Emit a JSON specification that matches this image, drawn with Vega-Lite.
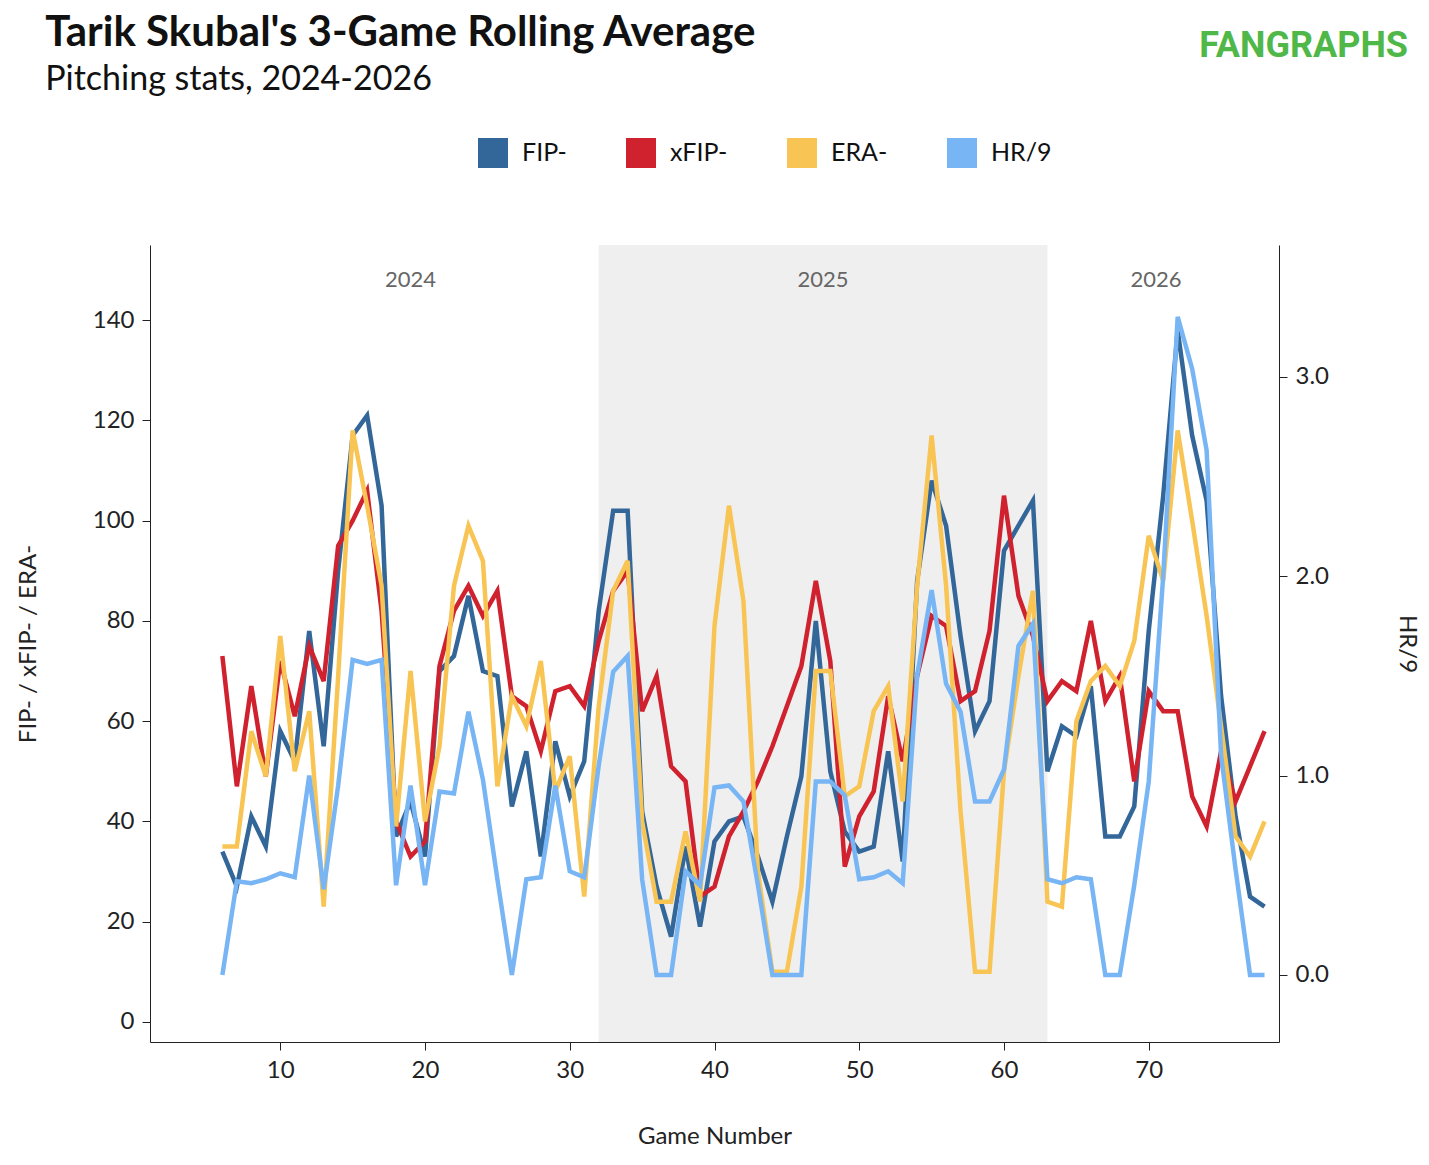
{
  "$schema": "https://vega.github.io/schema/vega-lite/v6.json",
  "autosize": {"type": "none"},
  "width": 1129,
  "height": 797,
  "padding": {"left": 150, "top": 245, "right": 150, "bottom": 123},
  "config": {
    "font": "Lato",
    "view": {"stroke": null},
    "axis": {"domainColor": "#222", "tickColor": "#222", "labelColor": "#222", "titleColor": "#222", "labelFontSize": 24, "titleFontSize": 24, "titleFontWeight": "normal", "labelFont": "Lato", "titleFont": "Lato", "grid": false, "tickSize": 8, "labelPadding": 8}
  },
  "title": {
    "text": "Tarik Skubal's 3-Game Rolling Average",
    "subtitle": "Pitching stats, 2024-2026",
    "anchor": "start",
    "dx": 29,
    "offset": -70,
    "fontSize": 42,
    "fontWeight": "bold",
    "color": "#111",
    "subtitleFontSize": 34,
    "subtitleColor": "#111",
    "subtitlePadding": 8,
    "font": "Lato",
    "subtitleFont": "Lato"
  },
  "datasets": {
    "seasons": [
      {"start": 1, "end": 32, "mid": 19, "season": "2024"},
      {"start": 32, "end": 63, "mid": 47.5, "season": "2025"},
      {"start": 63, "end": 79, "mid": 70.5, "season": "2026"}
    ],
    "games": [
      {"g": 6, "FIP-": 34, "xFIP-": 73, "ERA-": 35, "HR/9": 0.0},
      {"g": 7, "FIP-": 27, "xFIP-": 47, "ERA-": 35, "HR/9": 0.47},
      {"g": 8, "FIP-": 41, "xFIP-": 67, "ERA-": 58, "HR/9": 0.46},
      {"g": 9, "FIP-": 35, "xFIP-": 49, "ERA-": 49, "HR/9": 0.48},
      {"g": 10, "FIP-": 58, "xFIP-": 72, "ERA-": 77, "HR/9": 0.51},
      {"g": 11, "FIP-": 52, "xFIP-": 61, "ERA-": 50, "HR/9": 0.49},
      {"g": 12, "FIP-": 78, "xFIP-": 75, "ERA-": 62, "HR/9": 1.0},
      {"g": 13, "FIP-": 55, "xFIP-": 68, "ERA-": 23, "HR/9": 0.43},
      {"g": 14, "FIP-": 90, "xFIP-": 95, "ERA-": 69, "HR/9": 0.95},
      {"g": 15, "FIP-": 117, "xFIP-": 100, "ERA-": 118, "HR/9": 1.58},
      {"g": 16, "FIP-": 121, "xFIP-": 106, "ERA-": 103, "HR/9": 1.56},
      {"g": 17, "FIP-": 103, "xFIP-": 82, "ERA-": 87, "HR/9": 1.58},
      {"g": 18, "FIP-": 37, "xFIP-": 40, "ERA-": 39, "HR/9": 0.45},
      {"g": 19, "FIP-": 44, "xFIP-": 33, "ERA-": 70, "HR/9": 0.95},
      {"g": 20, "FIP-": 33, "xFIP-": 36, "ERA-": 40, "HR/9": 0.45},
      {"g": 21, "FIP-": 70, "xFIP-": 71, "ERA-": 55, "HR/9": 0.92},
      {"g": 22, "FIP-": 73, "xFIP-": 82, "ERA-": 87, "HR/9": 0.91},
      {"g": 23, "FIP-": 85, "xFIP-": 87, "ERA-": 99, "HR/9": 1.32},
      {"g": 24, "FIP-": 70, "xFIP-": 81, "ERA-": 92, "HR/9": 0.98},
      {"g": 25, "FIP-": 69, "xFIP-": 86, "ERA-": 47, "HR/9": 0.48},
      {"g": 26, "FIP-": 43, "xFIP-": 65, "ERA-": 65, "HR/9": 0.0},
      {"g": 27, "FIP-": 54, "xFIP-": 63, "ERA-": 59, "HR/9": 0.48},
      {"g": 28, "FIP-": 33, "xFIP-": 54, "ERA-": 72, "HR/9": 0.49},
      {"g": 29, "FIP-": 56, "xFIP-": 66, "ERA-": 46, "HR/9": 0.95},
      {"g": 30, "FIP-": 45, "xFIP-": 67, "ERA-": 53, "HR/9": 0.52},
      {"g": 31, "FIP-": 52, "xFIP-": 63, "ERA-": 25, "HR/9": 0.49},
      {"g": 32, "FIP-": 82, "xFIP-": 76, "ERA-": 63, "HR/9": 1.05},
      {"g": 33, "FIP-": 102, "xFIP-": 86, "ERA-": 86, "HR/9": 1.52},
      {"g": 34, "FIP-": 102, "xFIP-": 90, "ERA-": 92, "HR/9": 1.6},
      {"g": 35, "FIP-": 42, "xFIP-": 62, "ERA-": 40, "HR/9": 0.48},
      {"g": 36, "FIP-": 27, "xFIP-": 69, "ERA-": 24, "HR/9": 0.0},
      {"g": 37, "FIP-": 17, "xFIP-": 51, "ERA-": 24, "HR/9": 0.0},
      {"g": 38, "FIP-": 35, "xFIP-": 48, "ERA-": 38, "HR/9": 0.52},
      {"g": 39, "FIP-": 19, "xFIP-": 25, "ERA-": 24, "HR/9": 0.45},
      {"g": 40, "FIP-": 36, "xFIP-": 27, "ERA-": 79, "HR/9": 0.94},
      {"g": 41, "FIP-": 40, "xFIP-": 37, "ERA-": 103, "HR/9": 0.95},
      {"g": 42, "FIP-": 41, "xFIP-": 42, "ERA-": 84, "HR/9": 0.87},
      {"g": 43, "FIP-": 33, "xFIP-": 48, "ERA-": 30, "HR/9": 0.45},
      {"g": 44, "FIP-": 24, "xFIP-": 55, "ERA-": 10, "HR/9": 0.0},
      {"g": 45, "FIP-": 37, "xFIP-": 63, "ERA-": 10, "HR/9": 0.0},
      {"g": 46, "FIP-": 49, "xFIP-": 71, "ERA-": 27, "HR/9": 0.0},
      {"g": 47, "FIP-": 80, "xFIP-": 88, "ERA-": 70, "HR/9": 0.97},
      {"g": 48, "FIP-": 50, "xFIP-": 72, "ERA-": 70, "HR/9": 0.97},
      {"g": 49, "FIP-": 38, "xFIP-": 31, "ERA-": 45, "HR/9": 0.9},
      {"g": 50, "FIP-": 34, "xFIP-": 41, "ERA-": 47, "HR/9": 0.48},
      {"g": 51, "FIP-": 35, "xFIP-": 46, "ERA-": 62, "HR/9": 0.49},
      {"g": 52, "FIP-": 54, "xFIP-": 65, "ERA-": 67, "HR/9": 0.52},
      {"g": 53, "FIP-": 32, "xFIP-": 52, "ERA-": 44, "HR/9": 0.46},
      {"g": 54, "FIP-": 88, "xFIP-": 69, "ERA-": 87, "HR/9": 1.5},
      {"g": 55, "FIP-": 108, "xFIP-": 81, "ERA-": 117, "HR/9": 1.93},
      {"g": 56, "FIP-": 99, "xFIP-": 79, "ERA-": 87, "HR/9": 1.46},
      {"g": 57, "FIP-": 77, "xFIP-": 64, "ERA-": 42, "HR/9": 1.32},
      {"g": 58, "FIP-": 58, "xFIP-": 66, "ERA-": 10, "HR/9": 0.87},
      {"g": 59, "FIP-": 64, "xFIP-": 78, "ERA-": 10, "HR/9": 0.87},
      {"g": 60, "FIP-": 94, "xFIP-": 105, "ERA-": 50, "HR/9": 1.03},
      {"g": 61, "FIP-": 99, "xFIP-": 85, "ERA-": 69, "HR/9": 1.65},
      {"g": 62, "FIP-": 104, "xFIP-": 77, "ERA-": 86, "HR/9": 1.76},
      {"g": 63, "FIP-": 50, "xFIP-": 64, "ERA-": 24, "HR/9": 0.48},
      {"g": 64, "FIP-": 59, "xFIP-": 68, "ERA-": 23, "HR/9": 0.46},
      {"g": 65, "FIP-": 57, "xFIP-": 66, "ERA-": 60, "HR/9": 0.49},
      {"g": 66, "FIP-": 67, "xFIP-": 80, "ERA-": 68, "HR/9": 0.48},
      {"g": 67, "FIP-": 37, "xFIP-": 64, "ERA-": 71, "HR/9": 0.0},
      {"g": 68, "FIP-": 37, "xFIP-": 69, "ERA-": 67, "HR/9": 0.0},
      {"g": 69, "FIP-": 43, "xFIP-": 48, "ERA-": 76, "HR/9": 0.45},
      {"g": 70, "FIP-": 78, "xFIP-": 66, "ERA-": 97, "HR/9": 0.97},
      {"g": 71, "FIP-": 105, "xFIP-": 62, "ERA-": 88, "HR/9": 2.0},
      {"g": 72, "FIP-": 138, "xFIP-": 62, "ERA-": 118, "HR/9": 3.3},
      {"g": 73, "FIP-": 117, "xFIP-": 45, "ERA-": 100, "HR/9": 3.04},
      {"g": 74, "FIP-": 104, "xFIP-": 39, "ERA-": 81, "HR/9": 2.63},
      {"g": 75, "FIP-": 65, "xFIP-": 54, "ERA-": 59, "HR/9": 1.1},
      {"g": 76, "FIP-": 41, "xFIP-": 44, "ERA-": 37, "HR/9": 0.53},
      {"g": 77, "FIP-": 25, "xFIP-": 51, "ERA-": 33, "HR/9": 0.0},
      {"g": 78, "FIP-": 23, "xFIP-": 58, "ERA-": 40, "HR/9": 0.0}
    ]
  },
  "layer": [
    {
      "layer": [
        {
          "data": {"name": "seasons"},
          "transform": [{"filter": "datum.season == '2025'"}],
          "mark": {"type": "rect", "color": "#efefef"},
          "encoding": {
            "x": {"field": "start", "type": "quantitative"},
            "x2": {"field": "end"}
          }
        },
        {
          "data": {"name": "seasons"},
          "mark": {"type": "text", "fontSize": 22, "color": "#666", "baseline": "middle"},
          "encoding": {
            "x": {"field": "mid", "type": "quantitative"},
            "y": {"datum": 148, "type": "quantitative"},
            "text": {"field": "season"}
          }
        },
        {
          "data": {"name": "games"},
          "transform": [{"fold": ["FIP-", "xFIP-", "ERA-"], "as": ["metric", "value"]}],
          "mark": {"type": "line", "strokeWidth": 4.5, "strokeJoin": "miter"},
          "encoding": {
            "x": {"field": "g", "type": "quantitative", "scale": {"domain": [1, 79], "nice": false, "zero": false}, "axis": {"values": [10, 20, 30, 40, 50, 60, 70], "title": "Game Number", "titlePadding": 42}},
            "y": {"field": "value", "type": "quantitative", "scale": {"domain": [-4, 155], "nice": false}, "axis": {"values": [0, 20, 40, 60, 80, 100, 120, 140], "title": "FIP- / xFIP- / ERA-", "titlePadding": 52}},
            "color": {"field": "metric", "type": "nominal"}
          }
        }
      ]
    },
    {
      "layer": [
        {
          "data": {"name": "games"},
          "transform": [{"fold": ["HR/9"], "as": ["metric", "value"]}],
          "mark": {"type": "line", "strokeWidth": 4.5, "strokeJoin": "miter"},
          "encoding": {
            "x": {"field": "g", "type": "quantitative"},
            "y": {"field": "value", "type": "quantitative", "scale": {"domain": [-0.336, 3.66], "nice": false}, "axis": {"orient": "right", "values": [0, 1, 2, 3], "format": ".1f", "title": "HR/9", "titlePadding": 66}},
            "color": {"field": "metric", "type": "nominal"}
          }
        },
        {
          "mark": {"type": "rule", "color": "#78b5f5", "strokeWidth": 2.5, "strokeDash": [3, 3]},
          "encoding": {"y": {"datum": 0.8}}
        }
      ]
    },
    {
      "data": {"values": [{"logo": "FANGRAPHS"}]},
      "mark": {"type": "text", "fontSize": 36, "fontWeight": "bold", "color": "#4fb848", "align": "right", "baseline": "middle", "font": "Roboto", "clip": false},
      "encoding": {"x": {"value": 1258}, "y": {"value": -199}, "text": {"field": "logo"}}
    }
  ],
  "resolve": {"scale": {"y": "independent"}},
  "encoding": {
    "color": {
      "scale": {"domain": ["FIP-", "xFIP-", "ERA-", "HR/9"], "range": ["#336699", "#d0212e", "#f8c555", "#78b5f5"]},
      "legend": {"title": null, "orient": "none", "direction": "horizontal", "legendX": 328, "legendY": -107, "symbolType": "square", "symbolSize": 484, "symbolStrokeWidth": 8, "symbolOpacity": 1, "labelFontSize": 25, "labelFont": "Lato", "labelColor": "#111", "labelOffset": 14, "columnPadding": 47,
        "encode": {"symbols": {"update": {"fill": {"field": "value", "scale": "color"}}}}}
    }
  }
}
